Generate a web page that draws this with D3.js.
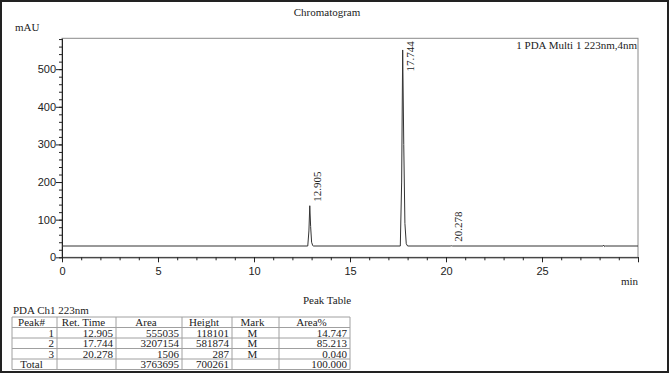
<!DOCTYPE html>
<html>
<head>
<meta charset="utf-8">
<script src="https://cdn.jsdelivr.net/npm/d3@7"></script>
<style>
  html, body { margin: 0; padding: 0; background: #fff; }
  svg { display: block; font-family: "Liberation Serif", "DejaVu Serif", serif; }
</style>
</head>
<body>
<div id="chart"></div>
<script>
// chromatogram trace: [time (min), signal (mAU)]
const signal = [
  [0, 30], [12.80, 30], [12.86, 70], [12.905, 137], [12.95, 82], [13.0, 40], [13.06, 31], [13.1, 30],
  [17.62, 30], [17.69, 200], [17.744, 551], [17.80, 300], [17.86, 90], [17.93, 36], [18.0, 30],
  [20.22, 30], [20.278, 30.6], [20.34, 30],
  [28.18, 30], [28.22, 32.5], [28.26, 28.5], [28.3, 30], [30, 30],
];

// labelled peaks: retention time and apex (mAU)
const peakTimes = [12.905, 17.744, 20.278];
const peakTops = [137, 551, 30.6];

const xMajorTicks = [0, 5, 10, 15, 20, 25, 30];
const yMajorTicks = [0, 100, 200, 300, 400, 500];

// peak table
const tableColumns = [`Peak#`, `Ret. Time`, `Area`, `Height`, `Mark`, `Area%`];
const peakNums = [`1`, `2`, `3`];
const retTimes = [`12.905`, `17.744`, `20.278`];
const areas = [`555035`, `3207154`, `1506`];
const heights = [`118101`, `581874`, `287`];
const marks = [`M`, `M`, `M`];
const areaPcts = [`14.747`, `85.213`, `0.040`];
const totals = [`Total`, ``, `3763695`, `700261`, ``, `100.000`];

const width = 670;
const height = 374;
const margin = { top: 38.3, right: 32, bottom: 116.7, left: 62 };

const svg = d3.select(`#chart`).append(`svg`)
  .attr(`width`, width)
  .attr(`height`, height);

const x = d3.scaleLinear().domain([0, 30]).range([margin.left, width - margin.right]);
const y = d3.scaleLinear().domain([0, 582]).range([height - margin.bottom, margin.top]);

// outer border
svg.append(`rect`)
  .attr(`x`, 1).attr(`y`, 1)
  .attr(`width`, width - 3).attr(`height`, height - 3)
  .attr(`fill`, `none`).attr(`stroke`, `#222`).attr(`stroke-width`, 2);

// plot frame
svg.append(`rect`)
  .attr(`x`, x(0)).attr(`y`, y(582))
  .attr(`width`, x(30) - x(0)).attr(`height`, y(0) - y(582))
  .attr(`fill`, `none`).attr(`stroke`, `#8a8a8a`).attr(`stroke-width`, 1);

const fontSize = `11px`;

// x axis: minor then major
const xAxisG = svg.append(`g`).attr(`transform`, `translate(0,${y(0)})`);
xAxisG.append(`g`)
  .call(d3.axisBottom(x).tickValues(d3.range(0, 31, 1)).tickSize(3).tickFormat(``))
  .call((g) => g.select(`.domain`).remove());
xAxisG.append(`g`)
  .call(d3.axisBottom(x).tickValues(xMajorTicks).tickSize(5).tickSizeOuter(0)
    .tickFormat((d) => (d === 30 ? `` : d)))
  .call((g) => g.selectAll(`text`).attr(`dy`, `0.95em`).attr(`y`, 7));
xAxisG.selectAll(`line, path`).attr(`stroke`, `#222`);
xAxisG.selectAll(`text`).attr(`font-family`, null).style(`font-size`, fontSize).attr(`fill`, `#222`);

// y axis
const yAxisG = svg.append(`g`).attr(`transform`, `translate(${x(0)},0)`);
yAxisG.append(`g`)
  .call(d3.axisLeft(y).tickValues(d3.range(0, 582, 20)).tickSize(3).tickFormat(``))
  .call((g) => g.select(`.domain`).remove());
yAxisG.append(`g`)
  .call(d3.axisLeft(y).tickValues(yMajorTicks).tickSize(6).tickSizeOuter(0))
  .call((g) => g.selectAll(`text`).attr(`x`, -6));
yAxisG.selectAll(`line, path`).attr(`stroke`, `#222`);
yAxisG.selectAll(`text`).attr(`font-family`, null).style(`font-size`, fontSize).attr(`fill`, `#222`);

// trace
const line = d3.line().x((d) => x(d[0])).y((d) => y(d[1]));
svg.append(`path`)
  .datum(signal)
  .attr(`d`, line)
  .attr(`fill`, `none`)
  .attr(`stroke`, `#333`)
  .attr(`stroke-width`, 1);

// peak labels, rotated
peakTimes.forEach((t, i) => {
  const lbl = svg.append(`text`)
    .attr(`font-size`, fontSize)
    .attr(`fill`, `#222`)
    .text(t.toFixed(3));
  const len = lbl.node().getComputedTextLength();
  let yStart = y(peakTops[i]) - 4;
  if (yStart - len < margin.top + 3) yStart = margin.top + 3 + len;
  const lx = x(t) + 11;
  lbl.attr(`transform`, `translate(${lx},${yStart}) rotate(-90)`);
});

// texts
svg.append(`text`).attr(`x`, 327).attr(`y`, 16).attr(`text-anchor`, `middle`)
  .attr(`font-size`, fontSize).attr(`fill`, `#222`).text(`Chromatogram`);
svg.append(`text`).attr(`x`, 15).attr(`y`, 31)
  .attr(`font-size`, fontSize).attr(`fill`, `#222`).text(`mAU`);
svg.append(`text`).attr(`x`, 637).attr(`y`, 49).attr(`text-anchor`, `end`)
  .attr(`font-size`, fontSize).attr(`fill`, `#222`).text(`1 PDA Multi 1 223nm,4nm`);
svg.append(`text`).attr(`x`, 638).attr(`y`, 285).attr(`text-anchor`, `end`)
  .attr(`font-size`, fontSize).attr(`fill`, `#222`).text(`min`);

// peak table
svg.append(`text`).attr(`x`, 327).attr(`y`, 304).attr(`text-anchor`, `middle`)
  .attr(`font-size`, fontSize).attr(`fill`, `#222`).text(`Peak Table`);
svg.append(`text`).attr(`x`, 13).attr(`y`, 314)
  .attr(`font-size`, fontSize).attr(`fill`, `#222`).text(`PDA Ch1 223nm`);

const colEdges = [12, 57, 116, 182, 232, 279, 350];
const tableTop = 317;
const rowH = 10.5;
const rows = peakNums.map((p, i) => [p, retTimes[i], areas[i], heights[i], marks[i], areaPcts[i]]);
rows.push(totals);

const table = svg.append(`g`);
const nRows = rows.length + 1;
// grid lines
d3.range(nRows + 1).forEach((r) => {
  table.append(`line`)
    .attr(`x1`, colEdges[0]).attr(`x2`, colEdges[colEdges.length - 1])
    .attr(`y1`, tableTop + r * rowH).attr(`y2`, tableTop + r * rowH)
    .attr(`stroke`, `#a0a0a0`).attr(`stroke-width`, 1);
});
colEdges.forEach((cx) => {
  table.append(`line`)
    .attr(`x1`, cx).attr(`x2`, cx)
    .attr(`y1`, tableTop).attr(`y2`, tableTop + nRows * rowH)
    .attr(`stroke`, `#a0a0a0`).attr(`stroke-width`, 1);
});
// header
tableColumns.forEach((c, j) => {
  table.append(`text`)
    .attr(`x`, (colEdges[j] + colEdges[j + 1]) / 2 - 3)
    .attr(`y`, tableTop + rowH - 1.5)
    .attr(`text-anchor`, `middle`)
    .attr(`font-size`, fontSize).attr(`fill`, `#222`).text(c);
});
// body
rows.forEach((row, r) => {
  row.forEach((v, j) => {
    const isTotalLabel = r === rows.length - 1 && j === 0;
    let tx; let anchor;
    if (isTotalLabel) { tx = (colEdges[0] + colEdges[1]) / 2 - 3; anchor = `middle`; }
    else if (j === 4) { tx = (colEdges[4] + colEdges[5]) / 2 - 3; anchor = `middle`; }
    else { tx = colEdges[j + 1] - 3; anchor = `end`; }
    table.append(`text`)
      .attr(`x`, tx)
      .attr(`y`, tableTop + (r + 2) * rowH - 1.5)
      .attr(`text-anchor`, anchor)
      .attr(`font-size`, fontSize).attr(`fill`, `#222`).text(v);
  });
});
</script>
</body>
</html>
